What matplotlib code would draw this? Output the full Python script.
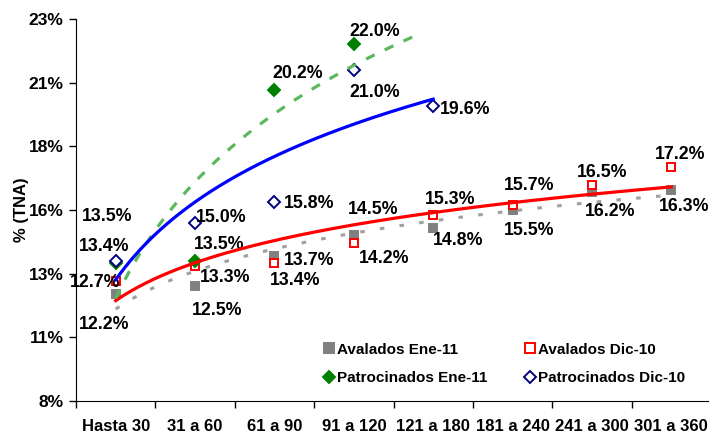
import numpy as np
import matplotlib
matplotlib.use("Agg")
import matplotlib.pyplot as plt
from matplotlib.lines import Line2D
from matplotlib.ticker import FixedLocator, NullFormatter

plt.rcParams['font.family'] = ['Liberation Sans', 'DejaVu Sans']
plt.rcParams['font.weight'] = 'bold'

# data
categories = ['Hasta 30', '31 a 60', '61 a 90', '91 a 120', '121 a 180',
              '181 a 240', '241 a 300', '301 a 360']
avalados_ene = [12.2, 12.5, 13.7, 14.5, 14.8, 15.5, 16.2, 16.3]
avalados_dic = [12.7, 13.3, 13.4, 14.2, 15.3, 15.7, 16.5, 17.2]
patrocinados_ene = [13.4, 13.5, 20.2, 22.0]
patrocinados_dic = [13.5, 15.0, 15.8, 21.0, 19.6]
y_ticks = [8, 10.5, 13, 15.5, 18, 20.5, 23]
y_tick_labels = ['8%', '11%', '13%', '16%', '18%', '21%', '23%']

# label offsets in points (dx, dy) for each point
off_av_ene = [(-8, -22), (16, -17), (25, -3), (14, 19), (18, -9), (12, -15), (13, -14), (9, -12)]
off_av_dic = [(-15, -1), (22, -8), (15, -12), (22, -11), (12, 11), (12, 14), (7, 9), (6, 9)]
off_pa_ene = [(-8, 12), (17, 12), (17, 12), (15, 9)]
off_pa_dic = [(-6, 32), (19, 4), (25, -1), (15, -16), (23, -3)]

fig = plt.figure(figsize=(7.09, 4.33), dpi=100)
ax = fig.add_axes([76 / 709, 32 / 433, 635 / 709, 382 / 433])

x_all = np.arange(len(categories))


def log_trend(vals, x_end):
    xs = np.arange(1, len(vals) + 1)
    b, a = np.polyfit(np.log(xs), vals, 1)
    xx = np.linspace(1, x_end, 200)
    return xx - 1, a + b * np.log(xx)


series = [
    (avalados_ene, 's', '#808080', '#808080', off_av_ene, 'Avalados Ene-11'),
    (avalados_dic, 's', 'white', '#ff0000', off_av_dic, 'Avalados Dic-10'),
    (patrocinados_ene, 'D', '#008000', '#008000', off_pa_ene, 'Patrocinados Ene-11'),
    (patrocinados_dic, 'D', 'white', '#000080', off_pa_dic, 'Patrocinados Dic-10'),
]

for vals, mk, fc, ec, offs, name in series:
    xs = np.arange(len(vals))
    ax.plot(xs, vals, linestyle='none', marker=mk, ms=6, mfc=fc, mec=ec,
            mew=1.4, zorder=3)
    for x, v, (dx, dy) in zip(xs, vals, offs):
        ax.annotate(f'{v:.1f}%', (x, v), xytext=(dx, dy), textcoords='offset points',
                    ha='center', va='center', fontsize=12.8, fontweight='bold')

# trend lines (logarithmic)
tx, ty = log_trend(avalados_ene, len(avalados_ene))
ax.plot(tx, ty, color='#a0a0a0', lw=2.2, dashes=(1.5, 5), zorder=4)
tx, ty = log_trend(avalados_dic, len(avalados_dic))
ax.plot(tx, ty, color='#ff0000', lw=2.3, zorder=4)
tx, ty = log_trend(patrocinados_ene, 4.85)
ax.plot(tx, ty, color='#5cb85c', lw=2.3, dashes=(3, 3.5), zorder=4)
tx, ty = log_trend(patrocinados_dic, len(patrocinados_dic))
ax.plot(tx, ty, color='#0000ff', lw=2.3, zorder=4)

ax.set_xlim(-0.5, len(categories) - 0.5)
ax.set_ylim(8, 23)
ax.set_yticks(y_ticks)
ax.set_yticklabels(y_tick_labels, fontsize=12.5, fontweight='bold')
ax.xaxis.set_major_locator(FixedLocator(np.arange(-0.5, len(categories), 1)))
ax.xaxis.set_major_formatter(NullFormatter())
ax.xaxis.set_minor_locator(FixedLocator(x_all))
ax.set_xticklabels(categories, minor=True, fontsize=12, fontweight='bold')
ax.tick_params(axis='x', which='minor', length=0, pad=13)
ax.tick_params(axis='both', which='major', length=5, width=1, direction='out')
ax.tick_params(axis='y', pad=4)
ax.spines['top'].set_visible(False)
ax.spines['right'].set_visible(False)
ax.set_ylabel('% (TNA)', fontsize=12, fontweight='bold', labelpad=-0.5)

handles = [Line2D([], [], linestyle='none', marker=mk, ms=6.5,
                  mfc=fc, mec=ec, mew=1.4)
           for vals, mk, fc, ec, offs, name in series]
names = [s[5] for s in series]
order = [0, 2, 1, 3]
ax.legend([handles[i] for i in order], [names[i] for i in order], ncol=2,
          frameon=False, loc='upper left',
          bbox_to_anchor=(317 / 709, 1 - 335 / 433), bbox_transform=fig.transFigure,
          prop={'size': 11, 'weight': 'bold'}, handlelength=0.6, handletextpad=0.2,
          columnspacing=2.5, labelspacing=0.95, borderpad=0)

fig.savefig('out.png', dpi=100)
